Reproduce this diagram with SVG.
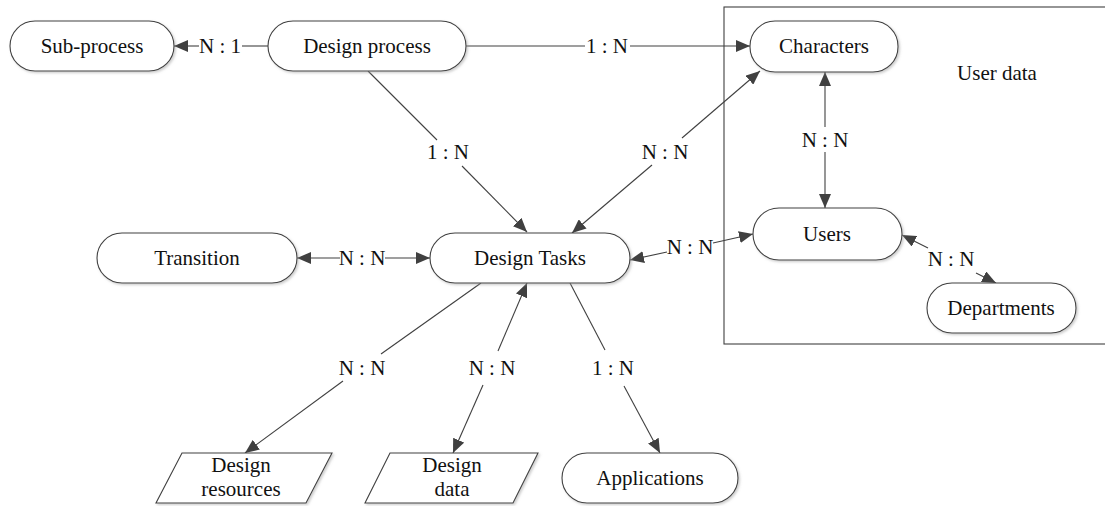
<svg xmlns="http://www.w3.org/2000/svg" width="1105" height="506" viewBox="0 0 1105 506">
<defs>
<marker id="arr" viewBox="0 0 14 12" refX="14" refY="6" markerWidth="14" markerHeight="12" markerUnits="userSpaceOnUse" orient="auto-start-reverse">
<path d="M0,0 L14,6 L0,12 z" fill="#404040"/>
</marker>
<filter id="sh" x="-10%" y="-10%" width="120%" height="130%">
<feDropShadow dx="1.5" dy="1.5" stdDeviation="0.8" flood-color="#999" flood-opacity="0.5"/>
</filter>
</defs>
<style>
.n{fill:#fff;stroke:#404040;stroke-width:1.1;filter:url(#sh)}
.t{font-family:"Liberation Serif","Times New Roman",serif;font-size:21px;fill:#111;text-anchor:middle}
.c{fill:none;stroke:#404040;stroke-width:1.1}
.s{marker-start:url(#arr)}
.e{marker-end:url(#arr)}
</style>
<rect x="724" y="7" width="400" height="337" fill="none" stroke="#404040" stroke-width="1.1"/>
<text class="t" x="997" y="80">User data</text>
<g id="connectors">
<line class="c" x1="268" y1="46" x2="242" y2="46"/>
<line class="c e" x1="199" y1="46" x2="174" y2="46"/>
<text class="t" x="220" y="53">N : 1</text>
<line class="c" x1="466" y1="46" x2="585" y2="46"/>
<line class="c e" x1="630" y1="46" x2="750" y2="46"/>
<text class="t" x="607" y="53">1 : N</text>
<line class="c" x1="368" y1="71" x2="437" y2="140"/>
<line class="c e" x1="462" y1="166" x2="527" y2="232"/>
<text class="t" x="448" y="159">1 : N</text>
<line class="c s" x1="572" y1="233" x2="652" y2="165"/>
<line class="c e" x1="682" y1="138" x2="760" y2="71"/>
<text class="t" x="665" y="159">N : N</text>
<line class="c s" x1="825" y1="72" x2="825" y2="127"/>
<line class="c e" x1="825" y1="152" x2="825" y2="208"/>
<text class="t" x="825" y="147">N : N</text>
<line class="c s" x1="297" y1="258" x2="340" y2="258"/>
<line class="c e" x1="385" y1="258" x2="430" y2="258"/>
<text class="t" x="362" y="265">N : N</text>
<line class="c s" x1="630" y1="260" x2="667" y2="252"/>
<line class="c e" x1="713" y1="243" x2="753" y2="234"/>
<text class="t" x="690" y="254">N : N</text>
<line class="c s" x1="902" y1="235" x2="928" y2="248"/>
<line class="c e" x1="976" y1="273" x2="996" y2="283"/>
<text class="t" x="951" y="266">N : N</text>
<line class="c" x1="481" y1="283" x2="381" y2="354"/>
<line class="c e" x1="343" y1="381" x2="245" y2="453"/>
<text class="t" x="362" y="375">N : N</text>
<line class="c s" x1="527" y1="283" x2="498" y2="351"/>
<line class="c e" x1="483" y1="385" x2="453" y2="453"/>
<text class="t" x="492" y="375">N : N</text>
<line class="c" x1="570" y1="283" x2="605" y2="350"/>
<line class="c e" x1="624" y1="386" x2="660" y2="453"/>
<text class="t" x="613" y="375">1 : N</text>
</g>
<g id="sub-process">
<rect class="n" x="10" y="21" width="164" height="50" rx="25"/>
<text class="t" x="92" y="53">Sub-process</text>
</g>
<g id="design-process">
<rect class="n" x="268" y="21" width="198" height="50" rx="25"/>
<text class="t" x="367" y="53">Design process</text>
</g>
<g id="characters">
<rect class="n" x="750" y="21" width="148" height="51" rx="25"/>
<text class="t" x="824" y="53">Characters</text>
</g>
<g id="users">
<rect class="n" x="753" y="208" width="149" height="52" rx="26"/>
<text class="t" x="827" y="241">Users</text>
</g>
<g id="departments">
<rect class="n" x="927" y="283" width="149" height="50" rx="25"/>
<text class="t" x="1001" y="315">Departments</text>
</g>
<g id="transition">
<rect class="n" x="97" y="233" width="200" height="50" rx="25"/>
<text class="t" x="197" y="265">Transition</text>
</g>
<g id="design-tasks">
<rect class="n" x="430" y="233" width="200" height="50" rx="25"/>
<text class="t" x="530" y="265">Design Tasks</text>
</g>
<g id="design-resources">
<polygon class="n" points="182,453 332,453 306,503 156,503"/>
<text class="t" x="241" y="472">Design</text>
<text class="t" x="241" y="496">resources</text>
</g>
<g id="design-data">
<polygon class="n" points="390,453 538,453 513,503 365,503"/>
<text class="t" x="452" y="472">Design</text>
<text class="t" x="452" y="496">data</text>
</g>
<g id="applications">
<rect class="n" x="562" y="453" width="176" height="50" rx="25"/>
<text class="t" x="650" y="485">Applications</text>
</g>
</svg>
